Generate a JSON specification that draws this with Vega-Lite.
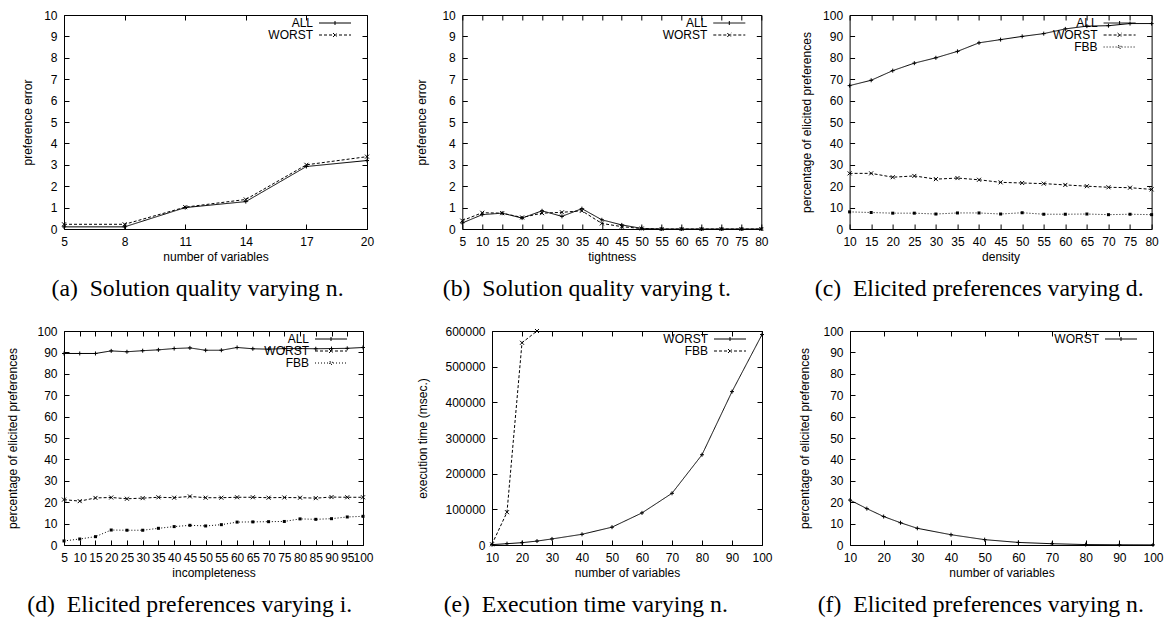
{
  "$schema": "https://vega.github.io/schema/vega-lite/v6.json",
  "padding": {"left": 5, "top": 8, "right": 0, "bottom": 0},
  "autosize": {"type": "pad"},
  "spacing": 22,
  "bounds": "full",
  "resolve": {
    "scale": {"strokeDash": "independent"},
    "legend": {"strokeDash": "independent"}
  },
  "datasets": {
    "a": [
      {"x": 5, "y": 0.1, "s": "ALL"}, {"x": 8, "y": 0.1, "s": "ALL"}, {"x": 11, "y": 1.0, "s": "ALL"},
      {"x": 14, "y": 1.28, "s": "ALL"}, {"x": 17, "y": 2.92, "s": "ALL"}, {"x": 20, "y": 3.2, "s": "ALL"},
      {"x": 5, "y": 0.22, "s": "WORST"}, {"x": 8, "y": 0.22, "s": "WORST"}, {"x": 11, "y": 1.02, "s": "WORST"},
      {"x": 14, "y": 1.38, "s": "WORST"}, {"x": 17, "y": 3.0, "s": "WORST"}, {"x": 20, "y": 3.38, "s": "WORST"}
    ],
    "b": [
      {"x": 5, "y": 0.28, "s": "ALL"}, {"x": 10, "y": 0.67, "s": "ALL"}, {"x": 15, "y": 0.74, "s": "ALL"},
      {"x": 20, "y": 0.51, "s": "ALL"}, {"x": 25, "y": 0.85, "s": "ALL"}, {"x": 30, "y": 0.59, "s": "ALL"},
      {"x": 35, "y": 0.95, "s": "ALL"}, {"x": 40, "y": 0.43, "s": "ALL"}, {"x": 45, "y": 0.19, "s": "ALL"},
      {"x": 50, "y": 0.03, "s": "ALL"}, {"x": 55, "y": 0, "s": "ALL"}, {"x": 60, "y": 0, "s": "ALL"},
      {"x": 65, "y": 0, "s": "ALL"}, {"x": 70, "y": 0, "s": "ALL"}, {"x": 75, "y": 0, "s": "ALL"}, {"x": 80, "y": 0, "s": "ALL"},
      {"x": 5, "y": 0.39, "s": "WORST"}, {"x": 10, "y": 0.76, "s": "WORST"}, {"x": 15, "y": 0.74, "s": "WORST"},
      {"x": 20, "y": 0.54, "s": "WORST"}, {"x": 25, "y": 0.74, "s": "WORST"}, {"x": 30, "y": 0.78, "s": "WORST"},
      {"x": 35, "y": 0.85, "s": "WORST"}, {"x": 40, "y": 0.26, "s": "WORST"}, {"x": 45, "y": 0.11, "s": "WORST"},
      {"x": 50, "y": 0.02, "s": "WORST"}, {"x": 55, "y": 0, "s": "WORST"}, {"x": 60, "y": 0, "s": "WORST"},
      {"x": 65, "y": 0, "s": "WORST"}, {"x": 70, "y": 0, "s": "WORST"}, {"x": 75, "y": 0, "s": "WORST"}, {"x": 80, "y": 0, "s": "WORST"}
    ],
    "c": [
      {"x": 10, "y": 67, "s": "ALL"}, {"x": 15, "y": 69.5, "s": "ALL"}, {"x": 20, "y": 74, "s": "ALL"},
      {"x": 25, "y": 77.5, "s": "ALL"}, {"x": 30, "y": 80, "s": "ALL"}, {"x": 35, "y": 83, "s": "ALL"},
      {"x": 40, "y": 87, "s": "ALL"}, {"x": 45, "y": 88.5, "s": "ALL"}, {"x": 50, "y": 90, "s": "ALL"},
      {"x": 55, "y": 91.3, "s": "ALL"}, {"x": 60, "y": 93.5, "s": "ALL"}, {"x": 65, "y": 94.8, "s": "ALL"},
      {"x": 70, "y": 95, "s": "ALL"}, {"x": 75, "y": 96, "s": "ALL"}, {"x": 80, "y": 96, "s": "ALL"},
      {"x": 10, "y": 26, "s": "WORST"}, {"x": 15, "y": 26, "s": "WORST"}, {"x": 20, "y": 24.2, "s": "WORST"},
      {"x": 25, "y": 24.8, "s": "WORST"}, {"x": 30, "y": 23.3, "s": "WORST"}, {"x": 35, "y": 23.8, "s": "WORST"},
      {"x": 40, "y": 23, "s": "WORST"}, {"x": 45, "y": 21.8, "s": "WORST"}, {"x": 50, "y": 21.5, "s": "WORST"},
      {"x": 55, "y": 21.2, "s": "WORST"}, {"x": 60, "y": 20.6, "s": "WORST"}, {"x": 65, "y": 20, "s": "WORST"},
      {"x": 70, "y": 19.5, "s": "WORST"}, {"x": 75, "y": 19.3, "s": "WORST"}, {"x": 80, "y": 18.5, "s": "WORST"},
      {"x": 10, "y": 8, "s": "FBB"}, {"x": 15, "y": 7.7, "s": "FBB"}, {"x": 20, "y": 7.4, "s": "FBB"},
      {"x": 25, "y": 7.4, "s": "FBB"}, {"x": 30, "y": 7, "s": "FBB"}, {"x": 35, "y": 7.5, "s": "FBB"},
      {"x": 40, "y": 7.5, "s": "FBB"}, {"x": 45, "y": 7, "s": "FBB"}, {"x": 50, "y": 7.6, "s": "FBB"},
      {"x": 55, "y": 6.9, "s": "FBB"}, {"x": 60, "y": 6.9, "s": "FBB"}, {"x": 65, "y": 7, "s": "FBB"},
      {"x": 70, "y": 6.7, "s": "FBB"}, {"x": 75, "y": 6.9, "s": "FBB"}, {"x": 80, "y": 6.7, "s": "FBB"}
    ],
    "d": [
      {"x": 5, "y": 89.5, "s": "ALL"}, {"x": 10, "y": 89.5, "s": "ALL"}, {"x": 15, "y": 89.5, "s": "ALL"},
      {"x": 20, "y": 90.7, "s": "ALL"}, {"x": 25, "y": 90.3, "s": "ALL"}, {"x": 30, "y": 90.8, "s": "ALL"},
      {"x": 35, "y": 91.2, "s": "ALL"}, {"x": 40, "y": 91.8, "s": "ALL"}, {"x": 45, "y": 92.1, "s": "ALL"},
      {"x": 50, "y": 91, "s": "ALL"}, {"x": 55, "y": 91, "s": "ALL"}, {"x": 60, "y": 92.3, "s": "ALL"},
      {"x": 65, "y": 91.7, "s": "ALL"}, {"x": 70, "y": 91.5, "s": "ALL"}, {"x": 75, "y": 91.8, "s": "ALL"},
      {"x": 80, "y": 91.8, "s": "ALL"}, {"x": 85, "y": 91.7, "s": "ALL"}, {"x": 90, "y": 91.8, "s": "ALL"},
      {"x": 95, "y": 91.9, "s": "ALL"}, {"x": 100, "y": 92.3, "s": "ALL"},
      {"x": 5, "y": 21.2, "s": "WORST"}, {"x": 10, "y": 20.5, "s": "WORST"}, {"x": 15, "y": 22, "s": "WORST"},
      {"x": 20, "y": 22.2, "s": "WORST"}, {"x": 25, "y": 21.6, "s": "WORST"}, {"x": 30, "y": 21.9, "s": "WORST"},
      {"x": 35, "y": 22.3, "s": "WORST"}, {"x": 40, "y": 22.1, "s": "WORST"}, {"x": 45, "y": 22.7, "s": "WORST"},
      {"x": 50, "y": 22.1, "s": "WORST"}, {"x": 55, "y": 22.1, "s": "WORST"}, {"x": 60, "y": 22.3, "s": "WORST"},
      {"x": 65, "y": 22.3, "s": "WORST"}, {"x": 70, "y": 22.1, "s": "WORST"}, {"x": 75, "y": 22.2, "s": "WORST"},
      {"x": 80, "y": 22.1, "s": "WORST"}, {"x": 85, "y": 21.9, "s": "WORST"}, {"x": 90, "y": 22.4, "s": "WORST"},
      {"x": 95, "y": 22.3, "s": "WORST"}, {"x": 100, "y": 22.3, "s": "WORST"},
      {"x": 5, "y": 1.9, "s": "FBB"}, {"x": 10, "y": 2.8, "s": "FBB"}, {"x": 15, "y": 3.9, "s": "FBB"},
      {"x": 20, "y": 7, "s": "FBB"}, {"x": 25, "y": 6.9, "s": "FBB"}, {"x": 30, "y": 6.9, "s": "FBB"},
      {"x": 35, "y": 7.8, "s": "FBB"}, {"x": 40, "y": 8.6, "s": "FBB"}, {"x": 45, "y": 9.2, "s": "FBB"},
      {"x": 50, "y": 8.9, "s": "FBB"}, {"x": 55, "y": 9.5, "s": "FBB"}, {"x": 60, "y": 10.7, "s": "FBB"},
      {"x": 65, "y": 10.8, "s": "FBB"}, {"x": 70, "y": 10.9, "s": "FBB"}, {"x": 75, "y": 11, "s": "FBB"},
      {"x": 80, "y": 12.2, "s": "FBB"}, {"x": 85, "y": 12, "s": "FBB"}, {"x": 90, "y": 12.3, "s": "FBB"},
      {"x": 95, "y": 13.1, "s": "FBB"}, {"x": 100, "y": 13.4, "s": "FBB"}
    ],
    "e": [
      {"x": 10, "y": 1000, "s": "WORST"}, {"x": 15, "y": 3700, "s": "WORST"}, {"x": 20, "y": 6500, "s": "WORST"},
      {"x": 25, "y": 11000, "s": "WORST"}, {"x": 30, "y": 17000, "s": "WORST"}, {"x": 40, "y": 30000, "s": "WORST"},
      {"x": 50, "y": 50000, "s": "WORST"}, {"x": 60, "y": 90000, "s": "WORST"}, {"x": 70, "y": 145000, "s": "WORST"},
      {"x": 80, "y": 253000, "s": "WORST"}, {"x": 90, "y": 430000, "s": "WORST"}, {"x": 100, "y": 590000, "s": "WORST"},
      {"x": 10, "y": 2000, "s": "FBB"}, {"x": 15, "y": 92000, "s": "FBB"}, {"x": 20, "y": 567000, "s": "FBB"},
      {"x": 25, "y": 600000, "s": "FBB"}
    ],
    "f": [
      {"x": 10, "y": 21, "s": "WORST"}, {"x": 15, "y": 17, "s": "WORST"}, {"x": 20, "y": 13.3, "s": "WORST"},
      {"x": 25, "y": 10.4, "s": "WORST"}, {"x": 30, "y": 7.8, "s": "WORST"}, {"x": 40, "y": 4.8, "s": "WORST"},
      {"x": 50, "y": 2.5, "s": "WORST"}, {"x": 60, "y": 1.2, "s": "WORST"}, {"x": 70, "y": 0.6, "s": "WORST"},
      {"x": 80, "y": 0.2, "s": "WORST"}, {"x": 90, "y": 0.1, "s": "WORST"}, {"x": 100, "y": 0.05, "s": "WORST"}
    ]
  },
  "vconcat": [
    {
      "spacing": 29.3,
      "bounds": "full",
      "resolve": {
        "scale": {"strokeDash": "independent"},
        "legend": {"strokeDash": "independent"}
      },
      "hconcat": [
        {
          "width": 303, "height": 214,
          "data": {"name": "a"},
          "title": {"text": "(a)\u2002Solution quality varying n."},
          "layer": [
            {"mark": {"type": "line", "color": "#000", "strokeWidth": 1},
             "encoding": {
               "x": {"field": "x", "type": "quantitative", "scale": {"domain": [5, 20], "nice": false, "zero": false}, "axis": {"values": [5, 8, 11, 14, 17, 20], "title": "number of variables"}},
               "y": {"field": "y", "type": "quantitative", "scale": {"domain": [0, 10], "nice": false}, "axis": {"values": [0, 1, 2, 3, 4, 5, 6, 7, 8, 9, 10], "title": "preference error", "titlePadding": 9.2}},
               "strokeDash": {"field": "s", "type": "nominal", "scale": {"domain": ["ALL", "WORST"], "range": [[1, 0], [3, 2]]}, "legend": {"title": " ", "symbolType": "M-8,0H8", "symbolSize": 16, "encode": {"symbols": {"update": {"shape": {"signal": "datum.index === 0 ? 'M-8,0H8M0,-1V1' : datum.index === 1 ? 'M-8,0H8M-1,-1L1,1M-1,1L1,-1' : 'M-8,0H8M-0.7,-0.7H0.7V0.7H-0.7Z'"}}}}}}
             }},
            {"transform": [{"filter": "datum.s === 'ALL'"}],
             "mark": {"type": "point", "color": "#000", "filled": false, "strokeWidth": 1, "size": 16, "opacity": 1, "shape": "M-1,0H1M0,-1V1"},
             "encoding": {
               "x": {"field": "x", "type": "quantitative", "scale": {"domain": [5, 20], "nice": false, "zero": false}, "axis": {"orient": "top", "values": [5, 8, 11, 14, 17, 20], "labels": false, "title": null}},
               "y": {"field": "y", "type": "quantitative", "scale": {"domain": [0, 10], "nice": false}, "axis": {"orient": "right", "values": [0, 1, 2, 3, 4, 5, 6, 7, 8, 9, 10], "labels": false, "title": null}}
             }},
            {"transform": [{"filter": "datum.s === 'WORST'"}],
             "mark": {"type": "point", "color": "#000", "filled": false, "strokeWidth": 1, "size": 16, "opacity": 1, "shape": "M-1,-1L1,1M-1,1L1,-1"},
             "encoding": {
               "x": {"field": "x", "type": "quantitative", "axis": null},
               "y": {"field": "y", "type": "quantitative", "axis": null}
             }}
          ],
          "resolve": {"axis": {"x": "independent", "y": "independent"}}
        },
        {
          "width": 299, "height": 214,
          "data": {"name": "b"},
          "title": {"text": "(b)\u2002Solution quality varying t."},
          "layer": [
            {"mark": {"type": "line", "color": "#000", "strokeWidth": 1},
             "encoding": {
               "x": {"field": "x", "type": "quantitative", "scale": {"domain": [5, 80], "nice": false, "zero": false}, "axis": {"values": [5, 10, 15, 20, 25, 30, 35, 40, 45, 50, 55, 60, 65, 70, 75, 80], "title": "tightness"}},
               "y": {"field": "y", "type": "quantitative", "scale": {"domain": [0, 10], "nice": false}, "axis": {"values": [0, 1, 2, 3, 4, 5, 6, 7, 8, 9, 10], "title": [" ", "preference error"], "titleLineHeight": 10, "titlePadding": 13.2}},
               "strokeDash": {"field": "s", "type": "nominal", "scale": {"domain": ["ALL", "WORST"], "range": [[1, 0], [3, 2]]}, "legend": {"title": " ", "symbolType": "M-8,0H8", "symbolSize": 16, "encode": {"symbols": {"update": {"shape": {"signal": "datum.index === 0 ? 'M-8,0H8M0,-1V1' : datum.index === 1 ? 'M-8,0H8M-1,-1L1,1M-1,1L1,-1' : 'M-8,0H8M-0.7,-0.7H0.7V0.7H-0.7Z'"}}}}}}
             }},
            {"transform": [{"filter": "datum.s === 'ALL'"}],
             "mark": {"type": "point", "color": "#000", "filled": false, "strokeWidth": 1, "size": 16, "opacity": 1, "shape": "M-1,0H1M0,-1V1"},
             "encoding": {
               "x": {"field": "x", "type": "quantitative", "scale": {"domain": [5, 80], "nice": false, "zero": false}, "axis": {"orient": "top", "values": [5, 10, 15, 20, 25, 30, 35, 40, 45, 50, 55, 60, 65, 70, 75, 80], "labels": false, "title": null}},
               "y": {"field": "y", "type": "quantitative", "scale": {"domain": [0, 10], "nice": false}, "axis": {"orient": "right", "values": [0, 1, 2, 3, 4, 5, 6, 7, 8, 9, 10], "labels": false, "title": null}}
             }},
            {"transform": [{"filter": "datum.s === 'WORST'"}],
             "mark": {"type": "point", "color": "#000", "filled": false, "strokeWidth": 1, "size": 16, "opacity": 1, "shape": "M-1,-1L1,1M-1,1L1,-1"},
             "encoding": {
               "x": {"field": "x", "type": "quantitative", "axis": null},
               "y": {"field": "y", "type": "quantitative", "axis": null}
             }}
          ],
          "resolve": {"axis": {"x": "independent", "y": "independent"}}
        },
        {
          "width": 302, "height": 214,
          "data": {"name": "c"},
          "title": {"text": "(c)\u2002Elicited preferences varying d."},
          "layer": [
            {"mark": {"type": "line", "color": "#000", "strokeWidth": 1},
             "encoding": {
               "x": {"field": "x", "type": "quantitative", "scale": {"domain": [10, 80], "nice": false, "zero": false}, "axis": {"values": [10, 15, 20, 25, 30, 35, 40, 45, 50, 55, 60, 65, 70, 75, 80], "title": "density"}},
               "y": {"field": "y", "type": "quantitative", "scale": {"domain": [0, 100], "nice": false}, "axis": {"values": [0, 10, 20, 30, 40, 50, 60, 70, 80, 90, 100], "title": "percentage of elicited preferences", "titlePadding": 9.5}},
               "strokeDash": {"field": "s", "type": "nominal", "scale": {"domain": ["ALL", "WORST", "FBB"], "range": [[1, 0], [3, 2], [1, 2]]}, "legend": {"title": " ", "symbolType": "M-8,0H8", "symbolSize": 16, "encode": {"symbols": {"update": {"shape": {"signal": "datum.index === 0 ? 'M-8,0H8M0,-1V1' : datum.index === 1 ? 'M-8,0H8M-1,-1L1,1M-1,1L1,-1' : 'M-8,0H8M-0.7,-0.7H0.7V0.7H-0.7Z'"}}}}}}
             }},
            {"transform": [{"filter": "datum.s === 'ALL'"}],
             "mark": {"type": "point", "color": "#000", "filled": false, "strokeWidth": 1, "size": 16, "opacity": 1, "shape": "M-1,0H1M0,-1V1"},
             "encoding": {
               "x": {"field": "x", "type": "quantitative", "scale": {"domain": [10, 80], "nice": false, "zero": false}, "axis": {"orient": "top", "values": [10, 15, 20, 25, 30, 35, 40, 45, 50, 55, 60, 65, 70, 75, 80], "labels": false, "title": null}},
               "y": {"field": "y", "type": "quantitative", "scale": {"domain": [0, 100], "nice": false}, "axis": {"orient": "right", "values": [0, 10, 20, 30, 40, 50, 60, 70, 80, 90, 100], "labels": false, "title": null}}
             }},
            {"transform": [{"filter": "datum.s === 'WORST'"}],
             "mark": {"type": "point", "color": "#000", "filled": false, "strokeWidth": 1, "size": 16, "opacity": 1, "shape": "M-1,-1L1,1M-1,1L1,-1"},
             "encoding": {
               "x": {"field": "x", "type": "quantitative", "axis": null},
               "y": {"field": "y", "type": "quantitative", "axis": null}
             }},
            {"transform": [{"filter": "datum.s === 'FBB'"}],
             "mark": {"type": "point", "color": "#000", "filled": true, "size": 9, "opacity": 1, "shape": "square"},
             "encoding": {
               "x": {"field": "x", "type": "quantitative", "axis": null},
               "y": {"field": "y", "type": "quantitative", "axis": null}
             }}
          ],
          "resolve": {"axis": {"x": "independent", "y": "independent"}}
        }
      ]
    },
    {
      "spacing": 24,
      "bounds": "full",
      "resolve": {
        "scale": {"strokeDash": "independent"},
        "legend": {"strokeDash": "independent"}
      },
      "hconcat": [
        {
          "width": 299, "height": 214,
          "data": {"name": "d"},
          "title": {"text": "(d)\u2002Elicited preferences varying i."},
          "layer": [
            {"mark": {"type": "line", "color": "#000", "strokeWidth": 1},
             "encoding": {
               "x": {"field": "x", "type": "quantitative", "scale": {"domain": [5, 100], "nice": false, "zero": false}, "axis": {"values": [5, 10, 15, 20, 25, 30, 35, 40, 45, 50, 55, 60, 65, 70, 75, 80, 85, 90, 95, 100], "title": "incompleteness"}},
               "y": {"field": "y", "type": "quantitative", "scale": {"domain": [0, 100], "nice": false}, "axis": {"values": [0, 10, 20, 30, 40, 50, 60, 70, 80, 90, 100], "title": "percentage of elicited preferences", "titlePadding": 17.5}},
               "strokeDash": {"field": "s", "type": "nominal", "scale": {"domain": ["ALL", "WORST", "FBB"], "range": [[1, 0], [3, 2], [1, 2]]}, "legend": {"title": " ", "symbolType": "M-8,0H8", "symbolSize": 16, "encode": {"symbols": {"update": {"shape": {"signal": "datum.index === 0 ? 'M-8,0H8M0,-1V1' : datum.index === 1 ? 'M-8,0H8M-1,-1L1,1M-1,1L1,-1' : 'M-8,0H8M-0.7,-0.7H0.7V0.7H-0.7Z'"}}}}}}
             }},
            {"transform": [{"filter": "datum.s === 'ALL'"}],
             "mark": {"type": "point", "color": "#000", "filled": false, "strokeWidth": 1, "size": 16, "opacity": 1, "shape": "M-1,0H1M0,-1V1"},
             "encoding": {
               "x": {"field": "x", "type": "quantitative", "scale": {"domain": [5, 100], "nice": false, "zero": false}, "axis": {"orient": "top", "values": [5, 10, 15, 20, 25, 30, 35, 40, 45, 50, 55, 60, 65, 70, 75, 80, 85, 90, 95, 100], "labels": false, "title": null}},
               "y": {"field": "y", "type": "quantitative", "scale": {"domain": [0, 100], "nice": false}, "axis": {"orient": "right", "values": [0, 10, 20, 30, 40, 50, 60, 70, 80, 90, 100], "labels": false, "title": null}}
             }},
            {"transform": [{"filter": "datum.s === 'WORST'"}],
             "mark": {"type": "point", "color": "#000", "filled": false, "strokeWidth": 1, "size": 16, "opacity": 1, "shape": "M-1,-1L1,1M-1,1L1,-1"},
             "encoding": {
               "x": {"field": "x", "type": "quantitative", "axis": null},
               "y": {"field": "y", "type": "quantitative", "axis": null}
             }},
            {"transform": [{"filter": "datum.s === 'FBB'"}],
             "mark": {"type": "point", "color": "#000", "filled": true, "size": 9, "opacity": 1, "shape": "square"},
             "encoding": {
               "x": {"field": "x", "type": "quantitative", "axis": null},
               "y": {"field": "y", "type": "quantitative", "axis": null}
             }}
          ],
          "resolve": {"axis": {"x": "independent", "y": "independent"}}
        },
        {
          "width": 270, "height": 214,
          "data": {"name": "e"},
          "title": {"text": "(e)\u2002Execution time varying n."},
          "layer": [
            {"mark": {"type": "line", "color": "#000", "strokeWidth": 1},
             "encoding": {
               "x": {"field": "x", "type": "quantitative", "scale": {"domain": [10, 100], "nice": false, "zero": false}, "axis": {"values": [10, 20, 30, 40, 50, 60, 70, 80, 90, 100], "title": "number of variables"}},
               "y": {"field": "y", "type": "quantitative", "scale": {"domain": [0, 600000], "nice": false}, "axis": {"values": [0, 100000, 200000, 300000, 400000, 500000, 600000], "format": "d", "title": [" ", "execution time (msec.)"], "titleLineHeight": 17, "titlePadding": 15.5}},
               "strokeDash": {"field": "s", "type": "nominal", "scale": {"domain": ["WORST", "FBB"], "range": [[1, 0], [3, 2]]}, "legend": {"title": " ", "symbolType": "M-8,0H8", "symbolSize": 16, "encode": {"symbols": {"update": {"shape": {"signal": "datum.index === 0 ? 'M-8,0H8M0,-1V1' : 'M-8,0H8M-1,-1L1,1M-1,1L1,-1'"}}}}}}
             }},
            {"transform": [{"filter": "datum.s === 'WORST'"}],
             "mark": {"type": "point", "color": "#000", "filled": false, "strokeWidth": 1, "size": 16, "opacity": 1, "shape": "M-1,0H1M0,-1V1"},
             "encoding": {
               "x": {"field": "x", "type": "quantitative", "scale": {"domain": [10, 100], "nice": false, "zero": false}, "axis": {"orient": "top", "values": [10, 20, 30, 40, 50, 60, 70, 80, 90, 100], "labels": false, "title": null}},
               "y": {"field": "y", "type": "quantitative", "scale": {"domain": [0, 600000], "nice": false}, "axis": {"orient": "right", "values": [0, 100000, 200000, 300000, 400000, 500000, 600000], "labels": false, "title": null}}
             }},
            {"transform": [{"filter": "datum.s === 'FBB'"}],
             "mark": {"type": "point", "color": "#000", "filled": false, "strokeWidth": 1, "size": 16, "opacity": 1, "shape": "M-1,-1L1,1M-1,1L1,-1"},
             "encoding": {
               "x": {"field": "x", "type": "quantitative", "axis": null},
               "y": {"field": "y", "type": "quantitative", "axis": null}
             }}
          ],
          "resolve": {"axis": {"x": "independent", "y": "independent"}}
        },
        {
          "width": 303, "height": 214,
          "data": {"name": "f"},
          "title": {"text": "(f)\u2002Elicited preferences varying n."},
          "layer": [
            {"mark": {"type": "line", "color": "#000", "strokeWidth": 1},
             "encoding": {
               "x": {"field": "x", "type": "quantitative", "scale": {"domain": [10, 100], "nice": false, "zero": false}, "axis": {"values": [10, 20, 30, 40, 50, 60, 70, 80, 90, 100], "title": "number of variables"}},
               "y": {"field": "y", "type": "quantitative", "scale": {"domain": [0, 100], "nice": false}, "axis": {"values": [0, 10, 20, 30, 40, 50, 60, 70, 80, 90, 100], "title": "percentage of elicited preferences", "titlePadding": 11.5}},
               "strokeDash": {"field": "s", "type": "nominal", "scale": {"domain": ["WORST"], "range": [[1, 0]]}, "legend": {"title": " ", "symbolType": "M-8,0H8", "symbolSize": 16, "encode": {"symbols": {"update": {"shape": {"value": "M-8,0H8M0,-1V1"}}}}}}
             }},
            {"transform": [{"filter": "datum.s === 'WORST'"}],
             "mark": {"type": "point", "color": "#000", "filled": false, "strokeWidth": 1, "size": 16, "opacity": 1, "shape": "M-1,0H1M0,-1V1"},
             "encoding": {
               "x": {"field": "x", "type": "quantitative", "scale": {"domain": [10, 100], "nice": false, "zero": false}, "axis": {"orient": "top", "values": [10, 20, 30, 40, 50, 60, 70, 80, 90, 100], "labels": false, "title": null}},
               "y": {"field": "y", "type": "quantitative", "scale": {"domain": [0, 100], "nice": false}, "axis": {"orient": "right", "values": [0, 10, 20, 30, 40, 50, 60, 70, 80, 90, 100], "labels": false, "title": null}}
             }}
          ],
          "resolve": {"axis": {"x": "independent", "y": "independent"}}
        }
      ]
    }
  ],
  "config": {
    "background": "#ffffff",
    "view": {"stroke": "#000", "strokeWidth": 1},
    "axis": {
      "grid": false, "domain": false,
      "ticks": true, "tickSize": -5, "tickColor": "#000", "tickWidth": 1,
      "labelPadding": 12, "labelFont": "Liberation Sans", "labelFontSize": 12, "labelColor": "#000",
      "labelFlush": false, "labelOverlap": false,
      "titleFont": "Liberation Sans", "titleFontSize": 12, "titleFontWeight": "normal", "titleColor": "#000"
    },
    "axisX": {"titlePadding": 4},
    "legend": {
      "orient": "top-right", "offset": 2, "padding": 0,
      "labelFont": "Liberation Sans", "labelFontSize": 12, "labelColor": "#000",
      "labelAlign": "right", "labelOffset": -28,
      "symbolStrokeWidth": 1, "symbolStrokeColor": "#000", "symbolFillColor": "transparent",
      "rowPadding": -1, "titleOrient": "right", "titlePadding": 12,
      "titleFontSize": 12, "titleFont": "Liberation Sans"
    },
    "title": {
      "orient": "bottom", "anchor": "middle", "frame": "bounds",
      "font": "Liberation Serif", "fontSize": 23.7, "fontWeight": "normal", "color": "#000",
      "baseline": "alphabetic", "offset": 15
    }
  }
}
